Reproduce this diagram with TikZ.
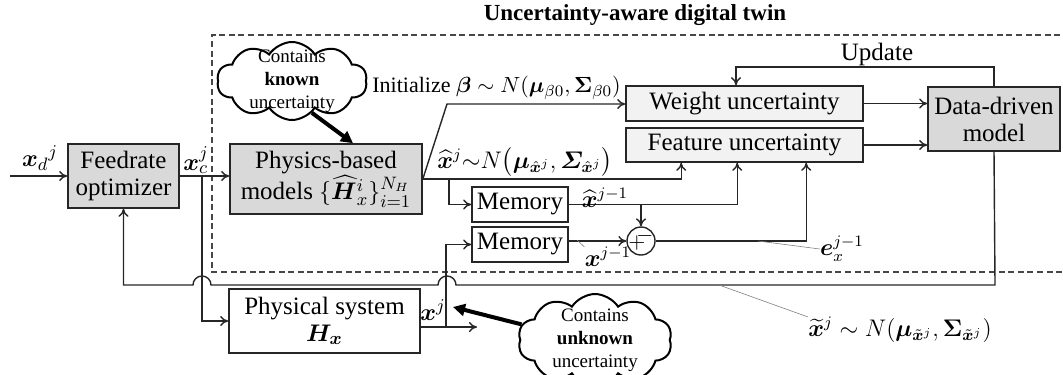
\documentclass[tikz,border=0pt]{standalone}
\usepackage{amsmath}
\usepackage{bm}
\usepackage{fontspec}
\setmainfont{Liberation Serif}
\usetikzlibrary{arrows.meta,shapes.symbols,calc}

\definecolor{boxgray}{HTML}{D9D9D9}
\definecolor{lightbox}{HTML}{F2F2F2}
\definecolor{linegray}{HTML}{262626}

\begin{document}
\begin{tikzpicture}[x=0.5pt,y=-0.5pt,
  font=\fontsize{12.5}{13.5}\selectfont,
  blk/.style={draw=linegray, line width=0.8pt, inner sep=0pt, align=center},
  darkblk/.style={blk, fill=boxgray},
  lightblk/.style={blk, fill=lightbox},
  plainblk/.style={blk, fill=white},
  conn/.style={draw=linegray, line width=0.7pt},
  arr/.style={conn, -{To[length=4pt,width=5pt]}},
  bigarr/.style={draw=black, line width=2pt, -{Triangle[length=6pt,width=6pt]}},
  leader/.style={draw=gray, line width=0.3pt},
  lbl/.style={inner sep=0pt},
  mathlbl/.style={inner sep=0pt, font=\fontsize{11.5}{13}\selectfont},
  puff/.style={cloud, cloud puffs=10, cloud puff arc=115, draw=black, line width=1pt, fill=white, inner sep=0pt},
  cloudtext/.style={align=center, font=\fontsize{9.5}{11.5}\selectfont, inner sep=0pt},
  twin/.style={draw=linegray!85, line width=0.8pt, dash pattern=on 3pt off 1.8pt},
]
\path[use as bounding box] (0,0) rectangle (1063,374);
\clip (0,0) rectangle (1063,374);

% digital-twin frame (open on the right)
\draw[twin] (1070,35) -- (212,35) -- (212,272) -- (1070,272);
\node[lbl, font=\bfseries\fontsize{11.5}{13}\selectfont] (title) at (635,15) {Uncertainty-aware digital twin};

% blocks
\node[darkblk, minimum width=55.5pt, minimum height=32pt] (fo) at (123.5,176) {Feedrate\\optimizer};
\node[darkblk, minimum width=96pt, minimum height=35pt] (pb) at (326,179) {Physics-based\\models $\{\widehat{\bm{H}}{}_x^i\}_{i=1}^{N_H}$};
\node[lightblk, minimum width=118.5pt, minimum height=17.5pt] (wu) at (744.5,103.5) {Weight uncertainty};
\node[lightblk, minimum width=118.5pt, minimum height=17pt] (fu) at (744.5,145) {Feature uncertainty};
\node[darkblk, minimum width=66pt, minimum height=32pt] (dd) at (994,119) {Data-driven\\model};
\node[plainblk, minimum width=48pt, minimum height=17.5pt] (m1) at (520,204.5) {Memory};
\node[plainblk, minimum width=48pt, minimum height=17.5pt] (m2) at (520,244.5) {Memory};
\node[plainblk, minimum width=95.5pt, minimum height=32pt] (ps) at (324.5,321) {Physical system\\$\bm{H}_{\bm{x}}$};
\node[draw=linegray, circle, line width=0.7pt, minimum size=14pt, inner sep=0pt] (sum) at (641,241) {};
\node[lbl, font=\fontsize{11}{11}\selectfont] (plus) at ($(sum)+(-4,2)$) {$+$};
\node[lbl, font=\fontsize{11}{11}\selectfont] (minus) at ($(sum)+(4,-5)$) {$-$};

% clouds
\node[puff, minimum width=75pt, minimum height=39pt] (kc) at (292,81) {};
\node[cloudtext] (kct) at (kc) {Contains\\\textbf{known}\\uncertainty};
\node[puff, minimum width=77pt, minimum height=46pt] (uc) at (595,340) {};
\node[cloudtext] (uct) at (uc) {Contains\\\textbf{unknown}\\uncertainty};

% branch points and free ends
\coordinate (in) at (10,176);
\coordinate (xcb) at (202,176);
\coordinate (br1) at (449,179);
\coordinate (kink) at (447,104);
\coordinate (xjb) at (446,327);
\coordinate (xjout) at (477,327);
\coordinate (u1) at (736,67);
\coordinate (xjtip) at (453,307);

% signal flow
\draw[arr] (in) -- (fo.west);
\draw[arr] (fo.east) -- (fo.east -| pb.west);
\draw[arr] (xcb) |- (ps.west);
\draw[arr] (pb.east) -- (kink) -- (kink -| wu.west);
\draw[arr] (pb.east) -| ($(fu.south west)+(56,0)$);
\draw[arr] (br1) |- (m1.west);
\draw[arr] (m1.east) -| ($(fu.south west)+(112,0)$);
\draw[arr] (sum.north |- m1.east) -- (sum.north);
\draw[arr] (sum.west -| m2.east) -- (sum.west);
\draw[arr] (sum.east) -| ($(fu.south west)+(181,0)$);
\draw[arr] ($(ps.east)+(0,6)$) -- (xjout);
\draw[arr] (xjb) |- (m2.west);
\draw[arr] (wu.east) -- (wu.east -| dd.west);
\draw[arr] (fu.east) -- (fu.east -| dd.west);
\draw[arr] (dd.north) |- (u1) -- (u1 |- wu.north);
\draw[arr] (dd.south) -- (995,285) -- (456,285)
  arc[start angle=0, end angle=180, radius=4.5pt] -- (211,285)
  arc[start angle=0, end angle=180, radius=4.5pt] -- (123.5,285) -- (fo.south);

% uncertainty sources
\draw[bigarr] (kc.302) -- ($(pb.north)+(27,0)$);
\draw[bigarr] (uc.168) -- (xjtip);

% signal labels
\node[lbl] (xd) at (40,158) {${\bm{x}_d}^{j}$};
\node[lbl] (xc) at (196,160) {$\bm{x}_c^j$};
\node[lbl, anchor=west, font=\fontsize{11}{13}\selectfont] (init) at (372,88) {Initialize $\bm{\beta}\;{\sim}\;N(\bm{\mu}_{\beta0},\bm{\Sigma}_{\beta0})$};
\node[mathlbl] (xhatlab) at (525,162) {$\widehat{\bm{x}}{}^{j}{\sim}N\big(\bm{\mu}_{\hat{\bm{x}}^j},\bm{\varSigma}_{\hat{\bm{x}}^j}\big)$};
\node[lbl] (upd) at (877,54) {Update};
\node[mathlbl] (xhm) at (605,198) {$\widehat{\bm{x}}{}^{j-1}$};
\node[mathlbl] (xm) at (608,257) {$\bm{x}^{j-1}$};
\node[mathlbl] (ex) at (842,249) {$\bm{e}_x^{j-1}$};
\node[lbl] (xj) at (433,310) {$\bm{x}^{j}$};
\node[mathlbl] (xt) at (900,330) {$\widetilde{\bm{x}}{}^{j}\sim N(\bm{\mu}_{\tilde{\bm{x}}^j},\bm{\Sigma}_{\tilde{\bm{x}}^j})$};

% leader lines
\draw[leader] (577,240) -- (xm.north west);
\draw[leader] (758,241) -- (ex.west);
\draw[leader] (719,285) -- (xt.north west);
\end{tikzpicture}
\end{document}
